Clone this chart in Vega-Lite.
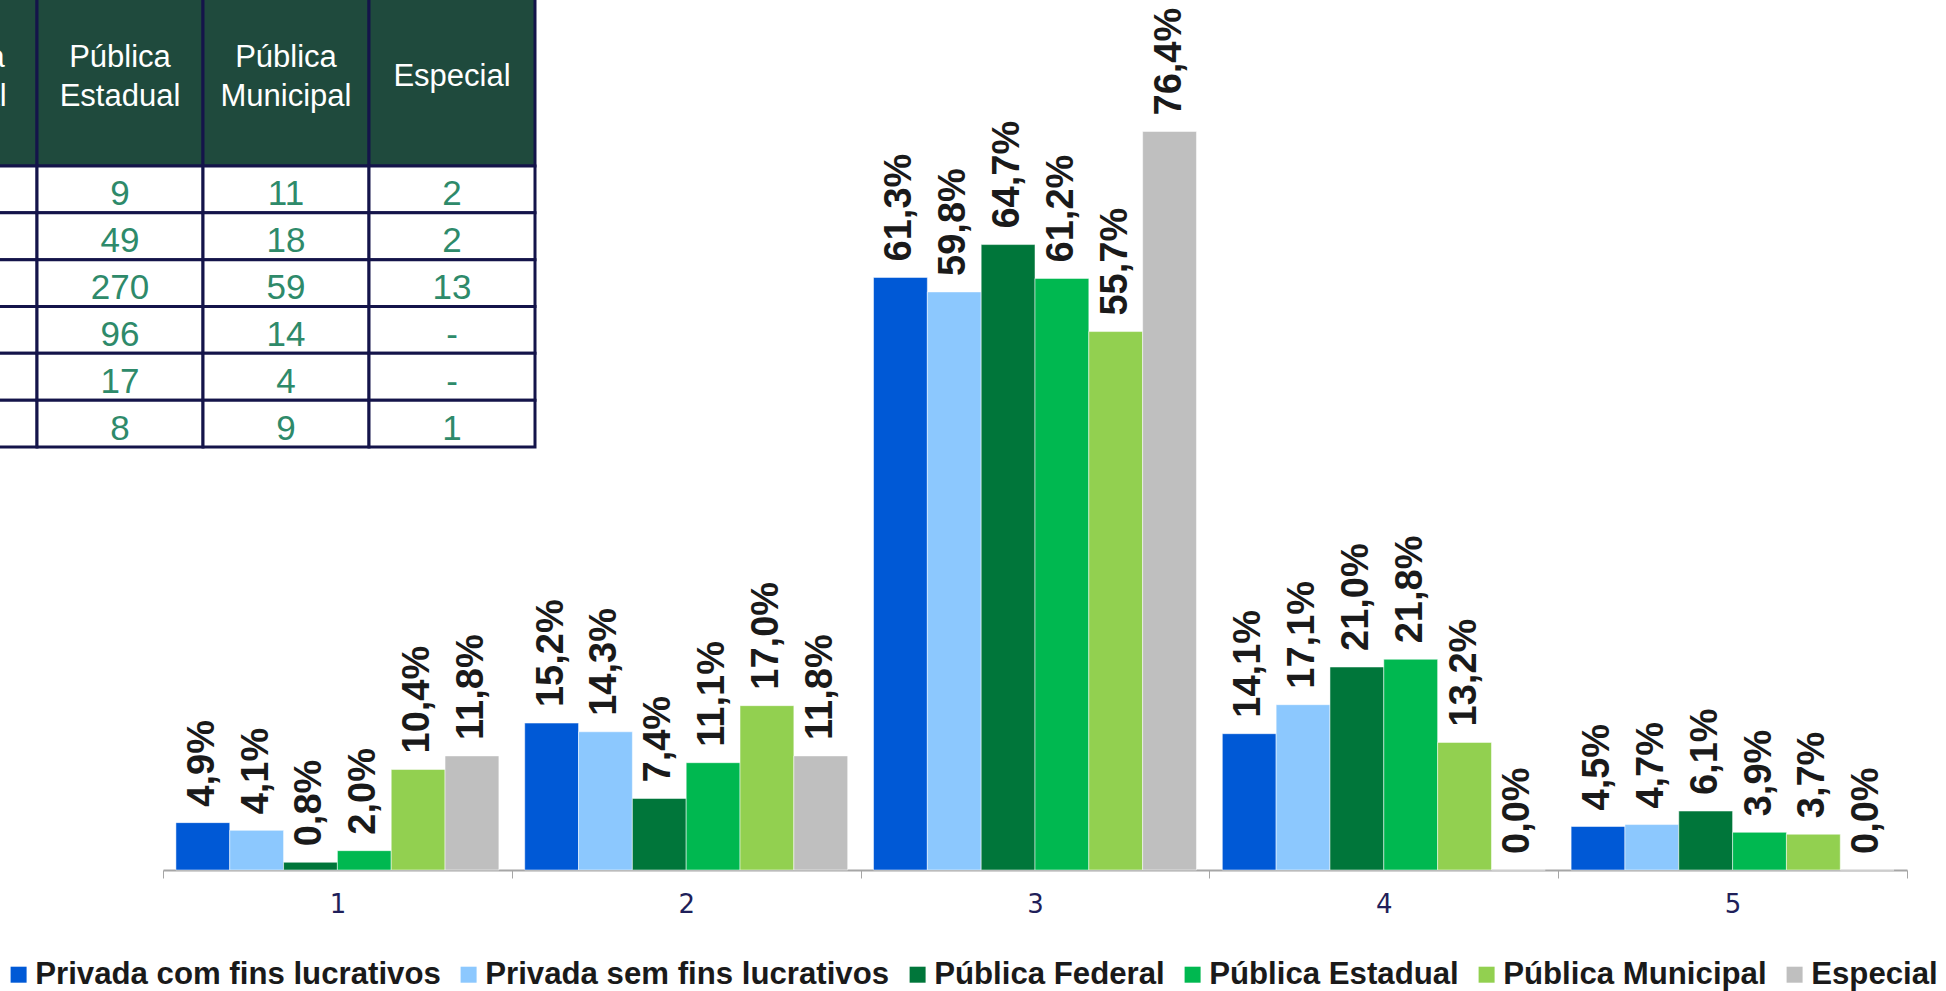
{
  "$schema": "https://vega.github.io/schema/vega-lite/v6.json",
  "width": 1744,
  "height": 870,
  "autosize": {"type": "none"},
  "padding": {"left": 163, "top": 0, "right": 39, "bottom": 121},
  "background": "white",
  "config": {
    "view": {"stroke": null},
    "locale": {"number": {"decimal": ",", "thousands": ".", "grouping": [3], "currency": ["R$ ", ""]}}
  },
  "datasets": {
    "barras": [
      {"conceito": "1", "tipo": "Privada com fins lucrativos", "pct": 0.049},
      {"conceito": "1", "tipo": "Privada sem fins lucrativos", "pct": 0.041},
      {"conceito": "1", "tipo": "Pública Federal", "pct": 0.008},
      {"conceito": "1", "tipo": "Pública Estadual", "pct": 0.020},
      {"conceito": "1", "tipo": "Pública Municipal", "pct": 0.104},
      {"conceito": "1", "tipo": "Especial", "pct": 0.118},
      {"conceito": "2", "tipo": "Privada com fins lucrativos", "pct": 0.152},
      {"conceito": "2", "tipo": "Privada sem fins lucrativos", "pct": 0.143},
      {"conceito": "2", "tipo": "Pública Federal", "pct": 0.074},
      {"conceito": "2", "tipo": "Pública Estadual", "pct": 0.111},
      {"conceito": "2", "tipo": "Pública Municipal", "pct": 0.170},
      {"conceito": "2", "tipo": "Especial", "pct": 0.118},
      {"conceito": "3", "tipo": "Privada com fins lucrativos", "pct": 0.613},
      {"conceito": "3", "tipo": "Privada sem fins lucrativos", "pct": 0.598},
      {"conceito": "3", "tipo": "Pública Federal", "pct": 0.647},
      {"conceito": "3", "tipo": "Pública Estadual", "pct": 0.612},
      {"conceito": "3", "tipo": "Pública Municipal", "pct": 0.557},
      {"conceito": "3", "tipo": "Especial", "pct": 0.764},
      {"conceito": "4", "tipo": "Privada com fins lucrativos", "pct": 0.141},
      {"conceito": "4", "tipo": "Privada sem fins lucrativos", "pct": 0.171},
      {"conceito": "4", "tipo": "Pública Federal", "pct": 0.210},
      {"conceito": "4", "tipo": "Pública Estadual", "pct": 0.218},
      {"conceito": "4", "tipo": "Pública Municipal", "pct": 0.132},
      {"conceito": "4", "tipo": "Especial", "pct": 0.0},
      {"conceito": "5", "tipo": "Privada com fins lucrativos", "pct": 0.045},
      {"conceito": "5", "tipo": "Privada sem fins lucrativos", "pct": 0.047},
      {"conceito": "5", "tipo": "Pública Federal", "pct": 0.061},
      {"conceito": "5", "tipo": "Pública Estadual", "pct": 0.039},
      {"conceito": "5", "tipo": "Pública Municipal", "pct": 0.037},
      {"conceito": "5", "tipo": "Especial", "pct": 0.0}
    ],
    "cabecalho": [
      {"faixa": "cabeçalho", "coluna": "Pública Federal", "rotulo": "Pública\nFederal"},
      {"faixa": "cabeçalho", "coluna": "Pública Estadual", "rotulo": "Pública\nEstadual"},
      {"faixa": "cabeçalho", "coluna": "Pública Municipal", "rotulo": "Pública\nMunicipal"},
      {"faixa": "cabeçalho", "coluna": "Especial", "rotulo": "Especial"}
    ],
    "tabela": [
      {"linha": "1", "coluna": "Pública Federal", "valor": ""},
      {"linha": "2", "coluna": "Pública Federal", "valor": ""},
      {"linha": "3", "coluna": "Pública Federal", "valor": ""},
      {"linha": "4", "coluna": "Pública Federal", "valor": ""},
      {"linha": "5", "coluna": "Pública Federal", "valor": ""},
      {"linha": "SC", "coluna": "Pública Federal", "valor": ""},
      {"linha": "1", "coluna": "Pública Estadual", "valor": "9"},
      {"linha": "2", "coluna": "Pública Estadual", "valor": "49"},
      {"linha": "3", "coluna": "Pública Estadual", "valor": "270"},
      {"linha": "4", "coluna": "Pública Estadual", "valor": "96"},
      {"linha": "5", "coluna": "Pública Estadual", "valor": "17"},
      {"linha": "SC", "coluna": "Pública Estadual", "valor": "8"},
      {"linha": "1", "coluna": "Pública Municipal", "valor": "11"},
      {"linha": "2", "coluna": "Pública Municipal", "valor": "18"},
      {"linha": "3", "coluna": "Pública Municipal", "valor": "59"},
      {"linha": "4", "coluna": "Pública Municipal", "valor": "14"},
      {"linha": "5", "coluna": "Pública Municipal", "valor": "4"},
      {"linha": "SC", "coluna": "Pública Municipal", "valor": "9"},
      {"linha": "1", "coluna": "Especial", "valor": "2"},
      {"linha": "2", "coluna": "Especial", "valor": "2"},
      {"linha": "3", "coluna": "Especial", "valor": "13"},
      {"linha": "4", "coluna": "Especial", "valor": "-"},
      {"linha": "5", "coluna": "Especial", "valor": "-"},
      {"linha": "SC", "coluna": "Especial", "valor": "1"}
    ]
  },
  "layer": [
    {
      "data": {"name": "barras"},
      "encoding": {
        "x": {
          "field": "conceito", "type": "nominal",
          "scale": {"paddingInner": 0, "paddingOuter": 0},
          "axis": {
            "title": null, "labelAngle": 0, "tickBand": "extent", "grid": false,
            "domainColor": "#A6A6A6", "domainWidth": 2,
            "tickColor": "#A6A6A6", "tickWidth": 1, "tickSize": 8,
            "labelFont": "DejaVu Sans", "labelFontSize": 26, "labelColor": "#1F1F5A", "labelPadding": 13
          }
        },
        "xOffset": {
          "field": "tipo", "type": "nominal",
          "sort": ["Privada com fins lucrativos", "Privada sem fins lucrativos", "Pública Federal", "Pública Estadual", "Pública Municipal", "Especial"],
          "scale": {"paddingInner": 0, "paddingOuter": 0.24}
        },
        "y": {"field": "pct", "type": "quantitative", "scale": {"domain": [0, 0.9]}, "axis": null}
      },
      "layer": [
        {
          "mark": {"type": "bar", "stroke": "white", "strokeOpacity": 0.5, "strokeWidth": 1},
          "encoding": {
            "color": {
              "field": "tipo", "type": "nominal",
              "scale": {
                "domain": ["Privada com fins lucrativos", "Privada sem fins lucrativos", "Pública Federal", "Pública Estadual", "Pública Municipal", "Especial"],
                "range": ["#0059D6", "#8CC8FE", "#00763A", "#00B850", "#92D050", "#BFBFBF"]
              },
              "legend": {
                "title": null, "orient": "none", "legendX": -160, "legendY": 959,
                "direction": "horizontal", "columns": 6, "padding": 0,
                "symbolType": "square", "symbolSize": 256, "symbolStrokeWidth": 0,
                "labelFont": "Liberation Sans", "labelFontWeight": "bold", "labelFontSize": 31.2,
                "labelColor": "#1A1A1A", "labelOffset": 1, "columnPadding": 12, "labelLimit": 0
              }
            }
          }
        },
        {
          "mark": {"type": "text", "angle": 270, "align": "left", "baseline": "middle", "dx": 16,
                   "font": "Liberation Sans", "fontWeight": "bold", "fontSize": 38, "fill": "#1A1A1A"},
          "encoding": {"text": {"field": "pct", "type": "quantitative", "format": ".1%"}}
        }
      ]
    },
    {
      "data": {"name": "cabecalho"},
      "encoding": {
        "x": {
          "field": "coluna", "type": "nominal",
          "scale": {"domain": ["Pública Federal", "Pública Estadual", "Pública Municipal", "Especial"], "range": [-292, 372], "paddingInner": 0, "paddingOuter": 0},
          "axis": null
        },
        "y": {
          "field": "faixa", "type": "nominal",
          "scale": {"range": [-14, 166], "paddingInner": 0, "paddingOuter": 0},
          "axis": null
        }
      },
      "layer": [
        {"mark": {"type": "rect", "fill": "#1F4A3D", "stroke": "#14144A", "strokeWidth": 3}},
        {
          "transform": [{"filter": "datum.coluna !== 'Especial'"}],
          "mark": {"type": "text", "fill": "white", "font": "Liberation Sans", "fontSize": 31, "lineBreak": "\n", "lineHeight": 39, "baseline": "middle", "dy": -18.5},
          "encoding": {"text": {"field": "rotulo", "type": "nominal"}}
        },
        {
          "transform": [{"filter": "datum.coluna === 'Especial'"}],
          "mark": {"type": "text", "fill": "white", "font": "Liberation Sans", "fontSize": 31, "baseline": "middle", "dy": 1},
          "encoding": {"text": {"field": "rotulo", "type": "nominal"}}
        }
      ]
    },
    {
      "data": {"name": "tabela"},
      "encoding": {
        "x": {
          "field": "coluna", "type": "nominal",
          "scale": {"domain": ["Pública Federal", "Pública Estadual", "Pública Municipal", "Especial"], "range": [-292, 372], "paddingInner": 0, "paddingOuter": 0},
          "axis": null
        },
        "y": {
          "field": "linha", "type": "nominal",
          "scale": {"domain": ["1", "2", "3", "4", "5", "SC"], "range": [166, 447], "paddingInner": 0, "paddingOuter": 0},
          "axis": null
        }
      },
      "layer": [
        {"mark": {"type": "rect", "fill": "white", "stroke": "#14144A", "strokeWidth": 3}},
        {
          "mark": {"type": "text", "fill": "#2E8A6A", "font": "Liberation Sans", "fontSize": 35, "baseline": "middle", "dy": 5},
          "encoding": {"text": {"field": "valor", "type": "nominal"}}
        }
      ]
    }
  ],
  "resolve": {"scale": {"x": "independent", "y": "independent"}}
}
